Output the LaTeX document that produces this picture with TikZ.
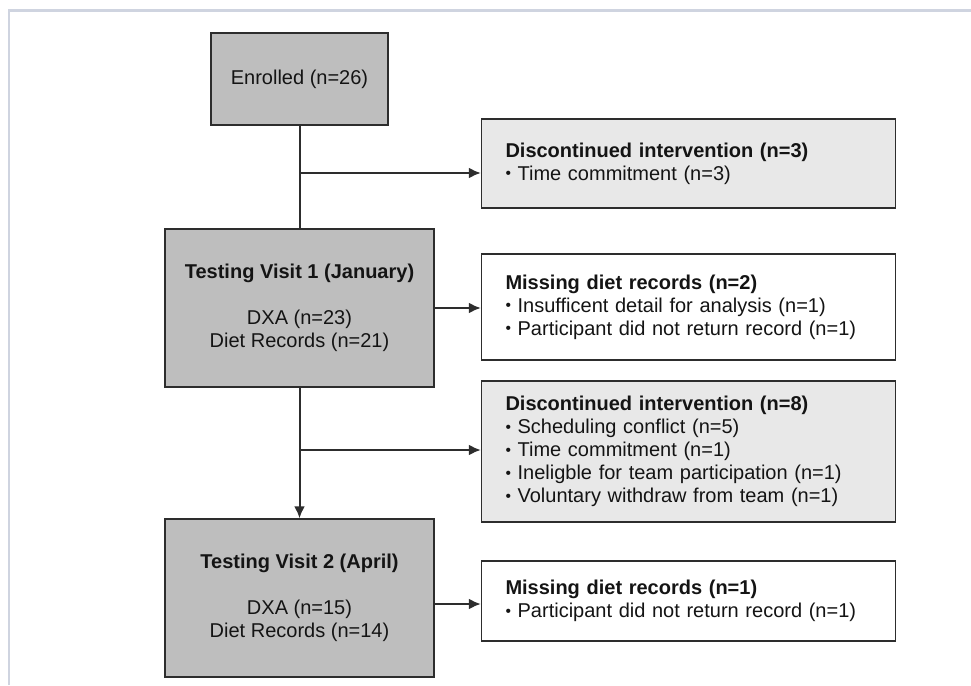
\documentclass[tikz,border=0pt]{standalone}
\usepackage{fontspec}
\setmainfont{Liberation Sans}
\usetikzlibrary{arrows.meta}
\definecolor{visitgray}{RGB}{190,190,190}
\definecolor{notegray}{RGB}{232,232,232}
\definecolor{framegray}{RGB}{207,212,224}
\definecolor{inkgray}{RGB}{45,45,45}
\newcommand{\bul}{\raisebox{.06em}{\scalebox{.78}{•}}}
\begin{document}
\begin{tikzpicture}[>={Latex[length=12pt,width=11pt]},x=1pt,y=-1pt,
	font=\fontsize{20}{23}\selectfont,text=black!92,
	box/.style={draw=inkgray,line width=1.4pt,inner sep=0pt},
	visit/.style={box,fill=visitgray,minimum width=269pt,minimum height=158pt,align=center},
	note/.style={box,fill=notegray,minimum width=414pt,inner xsep=24pt,text width=366pt,align=left},
	flow/.style={draw=inkgray,line width=2pt}]
	\useasboundingbox (0,0) rectangle (971,685);
	% frame
	\draw[framegray,line width=2.5pt] (9,685) -- (9,10.5) -- (971,10.5);
	% main column
	\node[visit,minimum width=177pt,minimum height=92pt] (enr) at (299.5,79) {Enrolled (n=26)};
	\node[visit] (tv1) at (299.5,308) {\textbf{Testing Visit 1 (January)}\\[23pt]DXA (n=23)\\Diet Records (n=21)};
	\node[visit] (tv2) at (299.5,598) {\textbf{Testing Visit 2 (April)}\\[23pt]DXA (n=15)\\Diet Records (n=14)};
	% side boxes
	\node[note,minimum height=89pt] (disc1) at (688.5,163.5) {\textbf{Discontinued intervention (n=3)}\\\bul{} Time commitment (n=3)};
	\node[note,fill=white,minimum height=106pt] (miss1) at (688.5,307) {\textbf{Missing diet records (n=2)}\\\bul{} Insufficent detail for analysis (n=1)\\\bul{} Participant did not return record (n=1)};
	\node[note,minimum height=141pt] (disc2) at (688.5,451.5) {\textbf{Discontinued intervention (n=8)}\\\bul{} Scheduling conflict (n=5)\\\bul{} Time commitment (n=1)\\\bul{} Ineligble for team participation (n=1)\\\bul{} Voluntary withdraw from team (n=1)};
	\node[note,fill=white,minimum height=80pt] (miss2) at (688.5,601) {\textbf{Missing diet records (n=1)}\\\bul{} Participant did not return record (n=1)};
	% connectors
	\coordinate (b1) at (299.5,173);
	\coordinate (b2) at (299.5,450);
	\coordinate (a2) at ([yshift=-6pt]tv2.east);
	\draw[flow] (enr.south) -- (tv1.north);
	\draw[flow,->] (b1) -- (b1 -| disc1.west);
	\draw[flow,->] (tv1.east) -- (tv1.east -| miss1.west);
	\draw[flow,->] (tv1.south) -- (tv2.north);
	\draw[flow,->] (b2) -- (b2 -| disc2.west);
	\draw[flow,->] (a2) -- (a2 -| miss2.west);
\end{tikzpicture}
\end{document}
